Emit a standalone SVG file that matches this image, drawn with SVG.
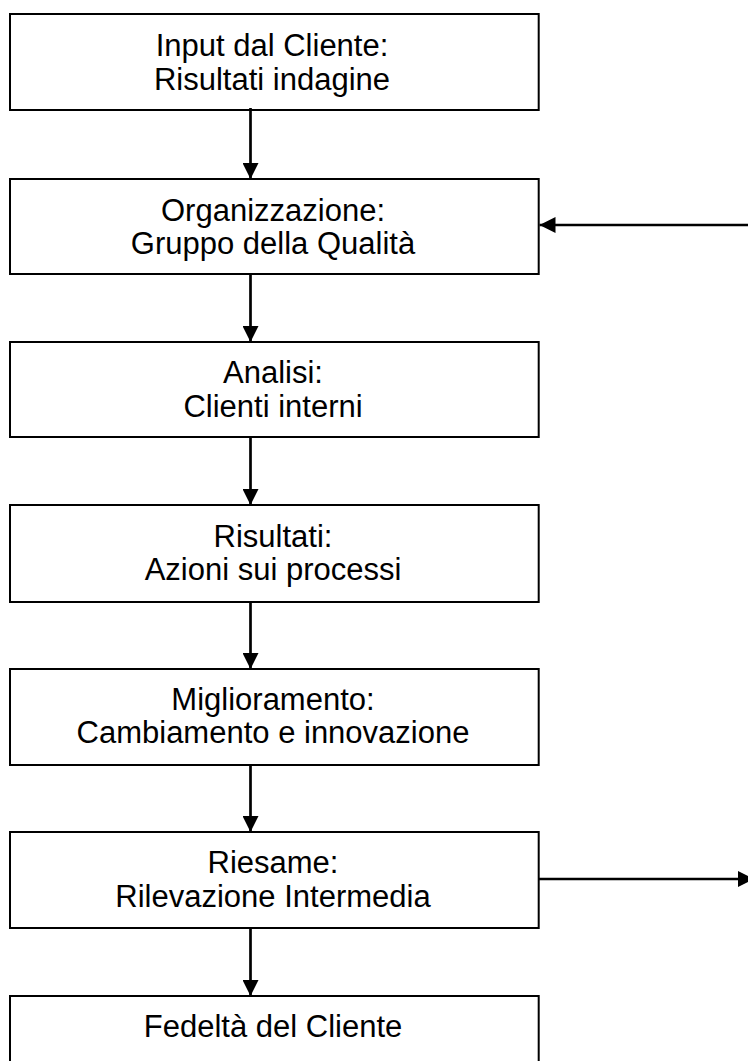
<svg xmlns="http://www.w3.org/2000/svg" width="748" height="1061" viewBox="0 0 748 1061">
<style>
.box{fill:#fff;stroke:#000;stroke-width:2}
.t{font-family:"Liberation Sans",Arial,sans-serif;font-size:31px;fill:#000;text-anchor:middle}
.c{stroke:#000;stroke-width:2.7;fill:none}
</style>
<defs>
<marker id="ah" markerWidth="16" markerHeight="16" viewBox="0 0 16 16" refX="16" refY="8" orient="auto" markerUnits="userSpaceOnUse">
<path d="M0,0 L16,8 L0,16 Z" fill="#000"/>
</marker>
</defs>
<rect width="748" height="1061" fill="#fff"/>
<g id="n1"><rect class="box" x="10" y="14" width="528.7" height="96"/>
<text class="t" x="272" y="56">Input dal Cliente:</text><text class="t" x="272" y="89.5">Risultati indagine</text></g>
<g id="n2"><rect class="box" x="10" y="179" width="528.7" height="95"/>
<text class="t" x="273" y="220.5">Organizzazione:</text><text class="t" x="273" y="254">Gruppo della Qualità</text></g>
<g id="n3"><rect class="box" x="10" y="342" width="528.7" height="95"/>
<text class="t" x="273" y="383">Analisi:</text><text class="t" x="273" y="416.5">Clienti interni</text></g>
<g id="n4"><rect class="box" x="10" y="505" width="528.7" height="97"/>
<text class="t" x="273" y="546.5">Risultati:</text><text class="t" x="273" y="580">Azioni sui processi</text></g>
<g id="n5"><rect class="box" x="10" y="669" width="528.7" height="96"/>
<text class="t" x="273" y="709.5">Miglioramento:</text><text class="t" x="273" y="743">Cambiamento e innovazione</text></g>
<g id="n6"><rect class="box" x="10" y="832" width="528.7" height="96"/>
<text class="t" x="273" y="873">Riesame:</text><text class="t" x="273" y="906.5">Rilevazione Intermedia</text></g>
<g id="n7"><rect class="box" x="10" y="996" width="528.7" height="120"/>
<text class="t" x="273" y="1037">Fedeltà del Cliente</text></g>
<g id="connectors">
<line class="c" x1="250.5" y1="108" x2="250.5" y2="179" marker-end="url(#ah)"/>
<line class="c" x1="250.5" y1="273" x2="250.5" y2="342" marker-end="url(#ah)"/>
<line class="c" x1="250.5" y1="436" x2="250.5" y2="505" marker-end="url(#ah)"/>
<line class="c" x1="250.5" y1="601" x2="250.5" y2="669" marker-end="url(#ah)"/>
<line class="c" x1="250.5" y1="764" x2="250.5" y2="832" marker-end="url(#ah)"/>
<line class="c" x1="250.5" y1="927" x2="250.5" y2="996" marker-end="url(#ah)"/>
<line class="c" x1="750" y1="225" x2="539.5" y2="225" marker-end="url(#ah)"/>
<line class="c" x1="538.7" y1="879" x2="754" y2="879" marker-end="url(#ah)"/>
</g>
</svg>
